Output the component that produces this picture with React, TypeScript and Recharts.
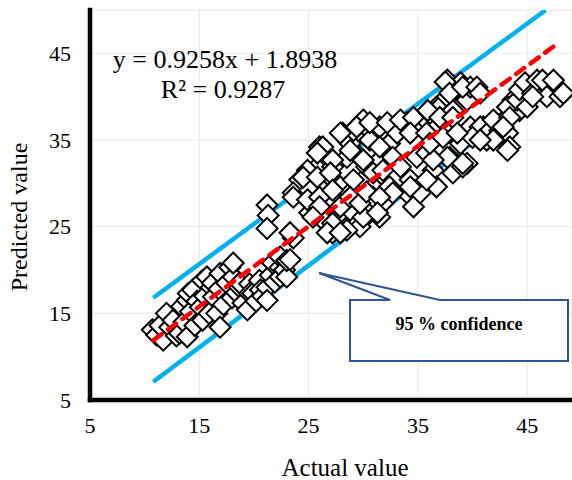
import React from "react";
import { ScatterChart, Scatter, XAxis, YAxis, CartesianGrid } from "recharts";

// fitted trend line y = slope * x + intercept
const slope = 0.9258;
const intercept = 1.8938;
const rSquared = 0.9287;

const xTicks = [5, 15, 25, 35, 45];
const yTicks = [5, 15, 25, 35, 45];

const fitRange = [10.8, 47.8];
const upperBand: [number, number][] = [[10.8, 16.8], [46.7, 50]];
const lowerBand: [number, number][] = [[10.8, 7.1], [40.0, 34.7]];

// observed points, [actual, predicted]
const lowGroup: [number, number][] = [
  [10.7, 13.1], [11.1, 12.5], [11.7, 11.9], [11.4, 13.6], [12.0, 15.0], [12.3, 13.4],
  [12.6, 14.2], [12.9, 12.4], [13.2, 12.7], [13.4, 15.8], [13.6, 14.0], [13.9, 12.3],
  [13.9, 16.5], [14.0, 17.3], [14.2, 15.2], [14.4, 17.7], [14.6, 13.6], [14.8, 16.4],
  [15.1, 15.7], [15.3, 14.2], [15.3, 18.8], [15.5, 17.0], [15.7, 19.2], [15.9, 15.0],
  [16.1, 18.0], [16.2, 18.5], [16.3, 16.9], [16.6, 15.0], [16.8, 17.8], [16.9, 13.4],
  [16.9, 19.6], [17.2, 16.0], [17.5, 18.5], [17.8, 20.3], [18.0, 16.8], [18.1, 19.2],
  [18.1, 20.8], [18.4, 17.4], [18.7, 18.0], [18.7, 18.5], [19.0, 16.2], [19.4, 15.4],
  [19.6, 18.4], [19.6, 17.3], [19.9, 17.3], [20.2, 16.4], [20.5, 18.8], [20.6, 17.7],
  [20.8, 17.0], [21.2, 18.0], [21.2, 16.5], [21.5, 19.4], [21.7, 20.8], [21.9, 18.6],
  [22.4, 20.3], [22.4, 21.5], [22.4, 19.2], [22.8, 20.0], [23.0, 19.2], [23.0, 21.1],
  [23.3, 21.2],
];

const midGroup: [number, number][] = [
  [21.2, 27.5], [21.3, 26.3], [21.2, 24.8], [23.6, 23.7], [23.3, 24.3],
  [24.2, 30.4], [23.6, 28.9], [24.9, 31.2], [25.1, 29.2], [25.8, 31.9], [26.0, 34.2],
  [26.7, 33.0], [27.2, 31.9], [27.0, 30.7], [26.0, 28.1], [27.0, 27.3], [25.1, 26.6],
  [26.3, 25.8], [27.9, 26.6], [27.9, 29.6], [28.1, 35.8], [28.5, 33.0], [28.8, 34.6],
  [28.8, 28.9], [29.1, 36.1], [29.4, 27.7], [29.7, 33.0], [30.0, 37.3], [30.0, 30.4],
  [30.3, 36.5], [30.3, 31.9], [30.6, 35.0], [30.6, 26.6], [30.9, 29.6], [31.5, 36.5],
  [31.5, 32.7], [31.5, 28.1], [31.5, 26.1], [29.7, 25.0], [28.5, 24.6], [27.2, 24.3],
  [32.4, 34.6], [32.4, 29.6], [32.7, 33.0], [33.1, 35.8], [33.4, 31.9], [34.0, 37.0],
  [34.0, 28.9], [34.3, 30.4], [34.6, 27.3], [34.9, 33.0], [35.2, 28.9], [35.8, 33.5],
  [36.4, 31.5], [36.7, 29.6], [35.5, 37.6], [36.4, 36.5], [36.7, 38.8],
  [27.9, 35.8], [29.4, 36.5], [30.6, 37.0], [32.2, 37.0], [33.4, 37.3], [34.6, 37.6],
  [34.3, 35.8], [35.8, 35.8], [36.1, 38.1], [37.0, 38.8], [31.8, 27.7], [30.9, 28.4],
  [34.3, 29.6], [35.8, 30.4], [32.7, 28.9], [28.8, 26.9], [30.0, 26.1],
  [24.9, 31.5], [24.5, 30.7], [25.8, 30.7], [23.6, 28.4], [24.9, 28.1], [26.0, 28.4],
  [26.0, 27.3], [25.4, 26.1], [27.2, 25.4], [27.9, 27.3], [26.7, 24.3], [27.9, 24.3],
  [26.3, 34.2], [25.8, 33.5], [27.2, 32.7], [27.0, 31.2], [27.2, 29.2], [29.1, 30.4],
  [28.8, 28.4], [29.7, 27.7], [30.3, 29.0], [31.5, 28.4], [31.3, 26.6], [30.0, 32.7],
  [30.9, 31.2], [31.8, 31.5], [31.5, 34.2], [28.8, 33.8],
];

const highGroup: [number, number][] = [
  [37.7, 35.8], [37.7, 40.0], [37.7, 41.9], [38.2, 38.4], [38.9, 41.6], [39.5, 39.6],
  [39.8, 41.1], [38.9, 34.6], [37.9, 33.0], [39.5, 32.3], [38.2, 31.2], [39.1, 31.9],
  [37.5, 41.7], [37.9, 40.4], [39.1, 41.1], [40.4, 41.1], [40.7, 40.4], [35.9, 38.4],
  [37.0, 37.6], [38.2, 37.6], [39.8, 36.5], [41.0, 36.5], [41.3, 35.8], [42.2, 36.1],
  [40.7, 36.5], [40.0, 35.3], [41.3, 35.0], [41.6, 36.1], [41.9, 37.3], [42.5, 36.1],
  [43.2, 35.8], [43.4, 34.2], [43.4, 37.9], [43.7, 39.6], [44.3, 38.4], [43.2, 38.8],
  [44.1, 39.6], [45.0, 38.8], [44.3, 40.8], [45.3, 41.1], [44.8, 41.6], [45.5, 40.4],
  [45.9, 41.9], [46.4, 41.9], [46.8, 40.0], [47.4, 41.9], [48.0, 40.0], [48.3, 40.4],
  [45.5, 40.0], [43.4, 37.6], [42.8, 36.5], [43.2, 33.8], [41.9, 35.0], [40.7, 35.0],
  [39.1, 32.3], [37.7, 33.0], [36.4, 32.7], [36.1, 34.6], [37.3, 35.3], [38.6, 35.8],
];

const toPoints = (pairs: [number, number][]) => pairs.map(([x, y]) => ({ x, y }));

const observed = toPoints([...lowGroup, ...midGroup, ...highGroup]);
const fitLine = fitRange.map((x) => ({ x, y: slope * x + intercept }));

const serif = '"Liberation Serif", "Times New Roman", serif';

const Diamond = (props: any) => {
  const { cx, cy } = props;
  if (cx == null || cy == null) return <g />;
  const r = 10.5;
  return (
    <path
      d={`M${cx},${cy - r}L${cx + r},${cy}L${cx},${cy + r}L${cx - r},${cy}Z`}
      fill="#fff"
      stroke="#000"
      strokeWidth={2}
    />
  );
};

const NoMark = () => <g />;

const tickStyle = { fill: "#000", fontSize: 22, fontFamily: serif };
const axisStyle = { stroke: "#000", strokeWidth: 4.5, strokeLinecap: "square" as const };

export default function App() {
  return (
    <div style={{ position: "absolute", left: 0, top: 0, width: 572, height: 480, background: "#fff" }}>
      <ScatterChart width={572} height={480} margin={{ top: 10, right: 0, bottom: 0, left: 0 }}>
        <CartesianGrid stroke="#e8e8e8" strokeWidth={1} />
        <XAxis
          type="number"
          dataKey="x"
          domain={[5, 49.1]}
          ticks={xTicks}
          allowDataOverflow
          height={80}
          tickLine={false}
          tickSize={6}
          tickMargin={11}
          axisLine={axisStyle}
          tick={tickStyle}
        />
        <YAxis
          type="number"
          dataKey="y"
          domain={[5, 50]}
          ticks={yTicks}
          allowDataOverflow
          width={90}
          tickLine={false}
          tickSize={8}
          tickMargin={11}
          axisLine={axisStyle}
          tick={tickStyle}
        />
        <Scatter
          data={toPoints(upperBand)}
          line={{ stroke: "#00B0F0", strokeWidth: 4.5 }}
          shape={NoMark}
          isAnimationActive={false}
        />
        <Scatter
          data={toPoints(lowerBand)}
          line={{ stroke: "#00B0F0", strokeWidth: 4.5 }}
          shape={NoMark}
          isAnimationActive={false}
        />
        <Scatter data={observed} shape={Diamond} isAnimationActive={false} />
        <Scatter
          data={fitLine}
          line={{ stroke: "#FF0000", strokeWidth: 4.5, strokeDasharray: "10 8", strokeLinecap: "round" }}
          shape={NoMark}
          isAnimationActive={false}
        />
      </ScatterChart>

      <svg
        width={572}
        height={480}
        style={{ position: "absolute", left: 0, top: 0, pointerEvents: "none" }}
        fontFamily={serif}
      >
        <text x={225} y={68} textAnchor="middle" fontSize={26} fill="#000">
          y = {slope}x + {intercept}
        </text>
        <text x={223} y={98} textAnchor="middle" fontSize={26} fill="#000">
          R² = {rSquared}
        </text>
        <text x={345} y={476} textAnchor="middle" fontSize={25} fill="#000">
          Actual value
        </text>
        <text transform="translate(27,217) rotate(-90)" textAnchor="middle" fontSize={24} fill="#000">
          Predicted value
        </text>
        <path
          d="M350,300 L390,300 L319,273 L440,300 L568,300 L568,361 L350,361 Z"
          fill="#fff"
          stroke="#2F5597"
          strokeWidth={2}
        />
        <text x={459} y={330} textAnchor="middle" fontSize={18} fontWeight="bold" fill="#000">
          95 % confidence
        </text>
      </svg>
    </div>
  );
}
